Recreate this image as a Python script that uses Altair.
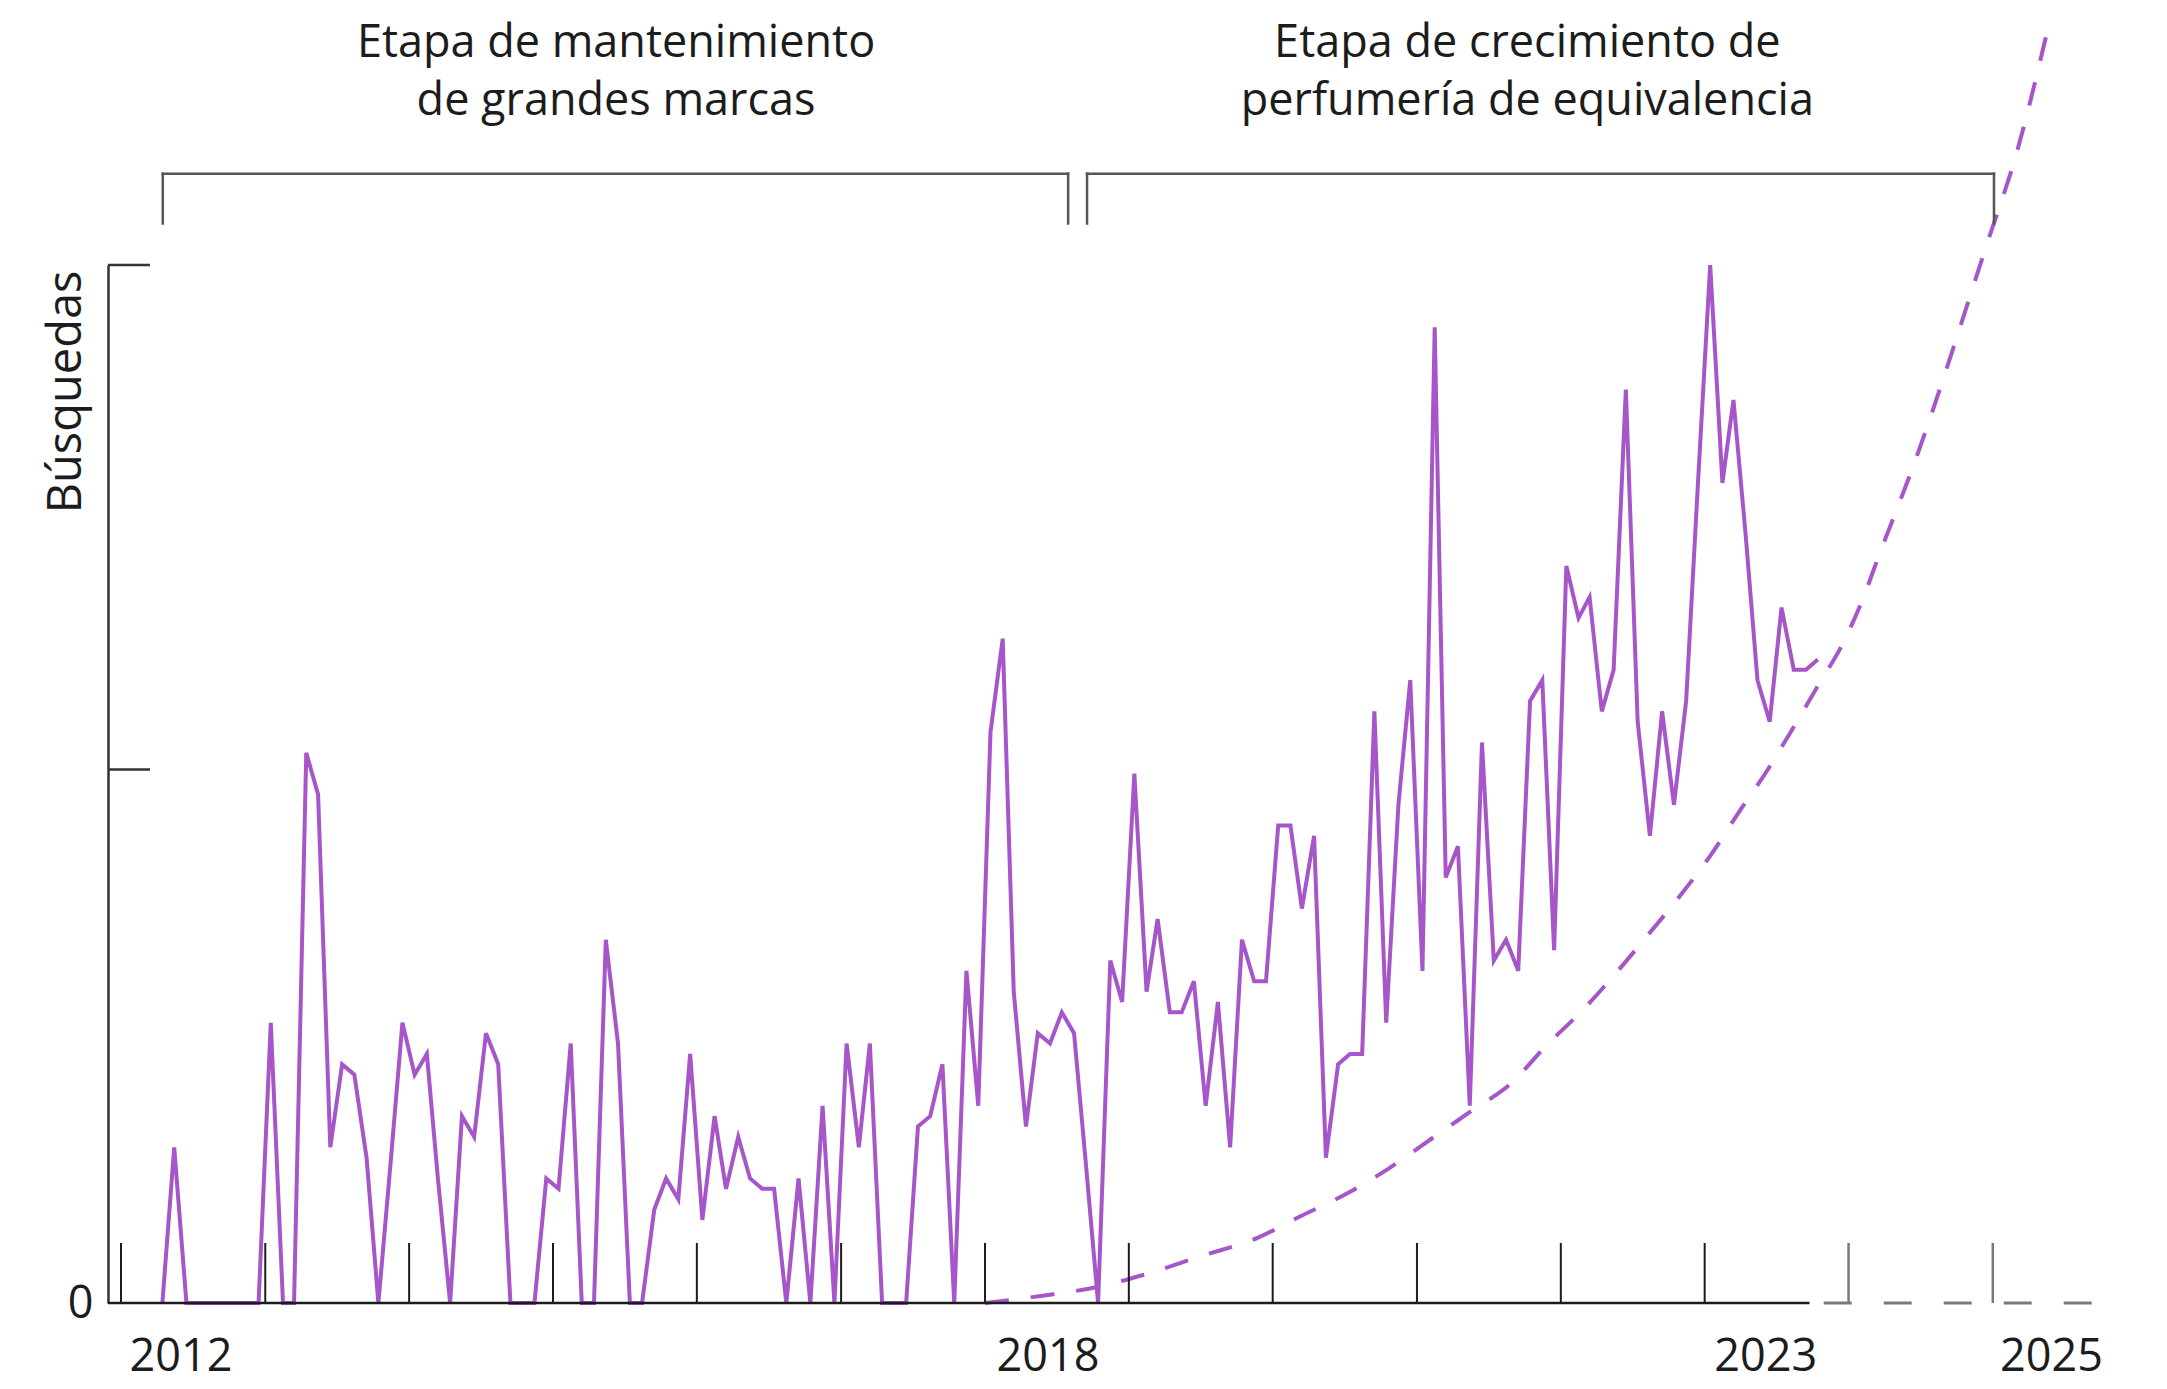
import altair as alt
import pandas as pd

# ---------------- data ----------------
# Monthly search interest (Google-Trends style, 0-100), April 2012 -> October 2023
search_values = [
    0, 15, 0, 0, 0, 0, 0, 0, 0, 27, 0, 0,
    53, 49, 15, 23, 22, 14, 0, 13.5, 27, 22, 24, 12,
    0, 18, 16, 26, 23, 0, 0, 0, 12, 11, 25, 0,
    0, 35, 25, 0, 0, 9, 12, 10, 24, 8, 18, 11,
    16, 12, 11, 11, 0, 12, 0, 19, 0, 25, 15, 25,
    0, 0, 0, 17, 18, 23, 0, 32, 19, 55, 64, 30,
    17, 26, 25, 28, 26, 13, 0, 33, 29, 51, 30, 37,
    28, 28, 31, 19, 29, 15, 35, 31, 31, 46, 46, 38,
    45, 14, 23, 24, 24, 57, 27, 48, 60, 32, 94, 41,
    44, 19, 54, 33, 35, 32, 58, 60, 34, 71, 66, 68,
    57, 61, 88, 56, 45, 57, 48, 58, 79, 100, 79, 87,
    74, 60, 56, 67, 61, 61, 62,
]
first_month = "2012-04-01"

# Dashed exponential trend
trend_dates = [
    "2018-01-01", "2018-05-27", "2018-10-20", "2019-02-06", "2019-07-02",
    "2019-11-25", "2020-03-14", "2020-07-05", "2020-10-23", "2021-02-06",
    "2021-05-19", "2021-08-29", "2021-11-25", "2022-02-25", "2022-05-19",
    "2022-08-11", "2022-10-30", "2023-01-19", "2023-03-29", "2023-06-07",
    "2023-08-04", "2023-10-16", "2023-12-17", "2024-02-06", "2024-03-18",
    "2024-06-10", "2024-12-17", "2025-03-04", "2025-05-16",
]
trend_values = [
    0, 0.7, 1.6, 2.7, 4.5,
    6.3, 8.4, 10.5, 13.0, 15.8,
    18.5, 21.2, 24.8, 28.2, 31.7,
    35.5, 39.2, 43.3, 47.3, 51.2,
    54.8, 59.5, 63.5, 67.8, 72.0,
    80.3, 102, 111, 122,
]

# Axis ticks and labels
tick_dates_past = [f"{y}-01-01" for y in [2012, 2013, 2014, 2015, 2016, 2017,
                                           2018, 2019, 2020, 2021, 2022, 2023]]
tick_dates_future = ["2024-01-01", "2025-01-01"]
label_years = ["2012", "2018", "2023", "2025"]
label_dates = ["2012-06-01", "2018-06-10", "2023-06-05", "2025-05-30"]
y_inner_ticks = [51.4, 100]

# Baseline (solid for observed period, dashed for the projection)
solid_base = {"start": ["2011-11-29"], "end": ["2023-09-24"]}
dashed_base = {"start": ["2023-10-30"], "end": ["2025-09-10"]}

# Brackets
bracket_starts = ["2012-04-16", "2018-09-17"]
bracket_ends = ["2018-07-31", "2025-01-04"]
bracket_top = 108.8
bracket_bottom = 104.0

# Annotations
annot_texts = ["Etapa de mantenimiento\nde grandes marcas",
               "Etapa de crecimiento de\nperfumería de equivalencia"]
annot_dates = ["2015-06-10", "2021-10-08"]
annot_value = 120.0

# ---------------- tables ----------------
dates = (pd.date_range(first_month, periods=len(search_values), freq="MS")
         + pd.Timedelta(days=14)).strftime("%Y-%m-%d")
line_df = pd.DataFrame({"date": list(dates), "v": search_values})
trend_df = pd.DataFrame({"date": trend_dates, "v": trend_values})
ticks_past_df = pd.DataFrame({"date": tick_dates_past})
ticks_future_df = pd.DataFrame({"date": tick_dates_future})
labels_df = pd.DataFrame({"date": label_dates, "label": label_years})
ytick_df = pd.DataFrame({"v": y_inner_ticks})
solid_df = pd.DataFrame({"date": solid_base["start"], "date2": solid_base["end"], "v": [0]})
dashed_df = pd.DataFrame({"date": dashed_base["start"], "date2": dashed_base["end"], "v": [0]})
br_h_df = pd.DataFrame({"date": bracket_starts, "date2": bracket_ends,
                        "v": [bracket_top] * len(bracket_starts)})
br_v_df = pd.DataFrame({"date": bracket_starts + bracket_ends,
                        "v": [bracket_top] * 4, "v2": [bracket_bottom] * 4})
annot_df = pd.DataFrame({"date": annot_dates, "label": annot_texts,
                         "v": [annot_value] * len(annot_texts)})

# ---------------- style ----------------
FONT = "Open Sans"
PURPLE = "#a656c9"
INK = "#1c1c1c"
AXIS = "#333333"
GREY = "#7a7a7a"

W, H = 1992, 1038

x_scale = alt.Scale(domain=[alt.DateTime(year=2011, month=11, date=29, utc=True),
                            alt.DateTime(year=2025, month=9, date=30, utc=True)])
y_scale = alt.Scale(domain=[0, 100], nice=False, zero=True)
y_axis = alt.Axis(
    values=[0], title="Búsquedas", grid=False, ticks=False,
    domainColor=AXIS, domainWidth=2.5,
    labelFont=FONT, labelFontSize=45, labelColor=INK, labelPadding=15,
    labelBaseline="middle",
    titleFont=FONT, titleFontSize=47, titleFontWeight="normal", titleColor=INK,
    titleAngle=270, titleAlign="right", titleBaseline="middle",
    titleX=-42, titleY=5,
)


def X(field="date"):
    return alt.X(f"{field}:T", scale=x_scale, axis=None)


def Y(field="v"):
    return alt.Y(f"{field}:Q", scale=y_scale, axis=y_axis)


line = alt.Chart(line_df).mark_line(
    color=PURPLE, strokeWidth=4, strokeJoin="miter"
).encode(x=X(), y=Y())

trend = alt.Chart(trend_df).mark_line(
    color=PURPLE, strokeWidth=4, strokeDash=[24, 22], interpolate="monotone"
).encode(x=X(), y=Y())

base_solid = alt.Chart(solid_df).mark_rule(color=INK, strokeWidth=2.5).encode(
    x=X(), x2="date2:T", y=Y())
base_dashed = alt.Chart(dashed_df).mark_rule(
    color=GREY, strokeWidth=3, strokeDash=[28, 32]).encode(x=X(), x2="date2:T", y=Y())

xt_past = alt.Chart(ticks_past_df).mark_rule(color=INK, strokeWidth=2).encode(
    x=X(), y=alt.value(H), y2=alt.value(H - 60))
xt_future = alt.Chart(ticks_future_df).mark_rule(color=GREY, strokeWidth=2.5).encode(
    x=X(), y=alt.value(H), y2=alt.value(H - 60))

yt = alt.Chart(ytick_df).mark_rule(color=AXIS, strokeWidth=2.5).encode(
    y=Y(), x=alt.value(0), x2=alt.value(42))

year_labels = alt.Chart(labels_df).mark_text(
    font=FONT, fontSize=45, color=INK, align="center", baseline="middle"
).encode(x=X(), y=alt.value(H + 54), text="label:N")

br_h = alt.Chart(br_h_df).mark_rule(color="#555555", strokeWidth=2.5, strokeCap="square").encode(
    x=X(), x2="date2:T", y=Y())
br_v = alt.Chart(br_v_df).mark_rule(color="#555555", strokeWidth=2.5, strokeCap="square").encode(
    x=X(), y=Y(), y2="v2:Q")

annots = alt.Chart(annot_df).mark_text(
    font=FONT, fontSize=45, color=INK, align="center", baseline="alphabetic",
    lineBreak="\n", lineHeight=58
).encode(x=X(), y=Y(), text="label:N")

chart = alt.layer(
    line, trend, base_solid, base_dashed, xt_past, xt_future, yt,
    year_labels, br_h, br_v, annots
).properties(
    width=W, height=H,
    autosize=alt.AutoSizeParams(type="none"),
    padding={"left": 100, "top": 257, "right": 50, "bottom": 92},
).configure_view(stroke=None)

chart.save("out.html", embed_options={"renderer": "svg", "actions": False})
